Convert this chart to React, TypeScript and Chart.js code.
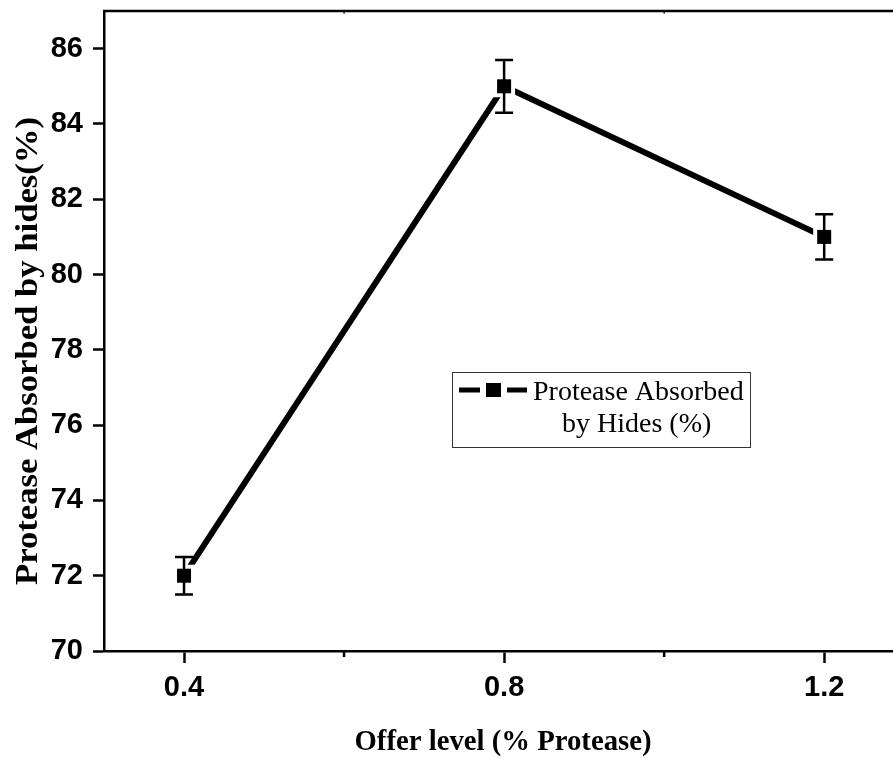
import React, { useEffect, useRef } from "react";
import { Chart, registerables } from "chart.js";
Chart.register(...registerables);

const offerLevels = [0.4, 0.8, 1.2];
const absorbed = [72, 85, 81];
const errors = [0.5, 0.7, 0.6];
const xMajorTicks = [0.4, 0.8, 1.2];
const xMinorTicks = [0.6, 1.0];
const yTicks = [70, 72, 74, 76, 78, 80, 82, 84, 86];
const legendLines = ["Protease Absorbed", "by Hides (%)"];
const xTitle = "Offer level (% Protease)";
const yTitle = "Protease Absorbed by hides(%)";

const SANS = "'Liberation Sans', Arial, sans-serif";
const SERIF = "'Liberation Serif', 'Times New Roman', serif";

const customPlugin = {
  id: "customDraw",
  afterDatasetsDraw(chart: any) {
    const ctx = chart.ctx;
    const meta = chart.getDatasetMeta(0);
    const yScale = chart.scales.y;
    ctx.save();
    ctx.fillStyle = "#fff";
    meta.data.forEach((pt: any) => {
      ctx.fillRect(pt.x - 11, pt.y - 11, 22, 22);
    });
    ctx.strokeStyle = "#000";
    ctx.lineWidth = 2.5;
    meta.data.forEach((pt: any, i: number) => {
      const yt = yScale.getPixelForValue(absorbed[i] + errors[i]);
      const yb = yScale.getPixelForValue(absorbed[i] - errors[i]);
      ctx.beginPath();
      ctx.moveTo(pt.x, yt);
      ctx.lineTo(pt.x, yb);
      ctx.moveTo(pt.x - 9, yt);
      ctx.lineTo(pt.x + 9, yt);
      ctx.moveTo(pt.x - 9, yb);
      ctx.lineTo(pt.x + 9, yb);
      ctx.stroke();
    });
    ctx.fillStyle = "#000";
    meta.data.forEach((pt: any) => {
      ctx.fillRect(pt.x - 7, pt.y - 7, 14, 14);
    });
    ctx.restore();
  },
  afterDraw(chart: any) {
    const ctx = chart.ctx;
    const area = chart.chartArea;
    const xScale = chart.scales.x;
    ctx.save();
    ctx.strokeStyle = "#000";
    ctx.lineWidth = 2.5;
    ctx.beginPath();
    ctx.moveTo(area.left - 1, area.top);
    ctx.lineTo(area.right, area.top);
    ctx.stroke();
    xMinorTicks.forEach((v) => {
      const px = xScale.getPixelForValue(v);
      ctx.lineWidth = 2.5;
      ctx.beginPath();
      ctx.moveTo(px, area.bottom);
      ctx.lineTo(px, area.bottom + 6);
      ctx.stroke();
      ctx.lineWidth = 1;
      ctx.beginPath();
      ctx.moveTo(px, area.top);
      ctx.lineTo(px, area.top + 3);
      ctx.stroke();
    });
    ctx.fillStyle = "#000";
    ctx.font = `bold 29px ${SERIF}`;
    ctx.textAlign = "center";
    ctx.textBaseline = "alphabetic";
    {
      const w = ctx.measureText(xTitle).width;
      ctx.save();
      ctx.translate(503, 750);
      ctx.scale(297 / w, 1);
      ctx.fillText(xTitle, 0, 0);
      ctx.restore();
    }
    ctx.font = `bold 32px ${SERIF}`;
    {
      const w = ctx.measureText(yTitle).width;
      ctx.save();
      ctx.translate(37, 351);
      ctx.rotate(-Math.PI / 2);
      ctx.scale(468 / w, 1);
      ctx.fillText(yTitle, 0, 0);
      ctx.restore();
    }
    ctx.strokeStyle = "#333";
    ctx.lineWidth = 1;
    ctx.strokeRect(452.5, 372.5, 298, 75);
    ctx.strokeStyle = "#000";
    ctx.lineWidth = 5;
    ctx.beginPath();
    ctx.moveTo(459, 390);
    ctx.lineTo(480, 390);
    ctx.moveTo(507, 390);
    ctx.lineTo(527, 390);
    ctx.stroke();
    ctx.fillStyle = "#000";
    ctx.fillRect(486, 383, 15, 14);
    ctx.font = `28px ${SERIF}`;
    ctx.textAlign = "left";
    ctx.fillText(legendLines[0], 533, 400);
    ctx.fillText(legendLines[1], 562, 432);
    ctx.restore();
  },
};

export default function App() {
  const ref = useRef<HTMLCanvasElement | null>(null);
  useEffect(() => {
    if (!ref.current) return;
    const chart = new Chart(ref.current, {
      type: "line",
      data: {
        datasets: [
          {
            label: legendLines.join(" "),
            data: offerLevels.map((x, i) => ({ x, y: absorbed[i] })),
            borderColor: "#000",
            backgroundColor: "#000",
            borderWidth: 6,
            pointRadius: 0,
            tension: 0,
            fill: false,
          },
        ],
      },
      options: {
        animation: false,
        responsive: false,
        devicePixelRatio: 1,
        layout: { padding: { top: 11, right: 0, left: 0, bottom: 0 } },
        plugins: { legend: { display: false }, tooltip: { enabled: false } },
        scales: {
          x: {
            type: "linear",
            min: 0.3,
            max: 1.286,
            afterBuildTicks: (scale: any) => {
              scale.ticks = [...xMajorTicks, ...xMinorTicks]
                .sort((a, b) => a - b)
                .map((v) => ({ value: v }));
            },
            afterFit: (scale: any) => {
              scale.height = 107;
              scale.paddingLeft = 0;
              scale.paddingRight = 0;
              scale.paddingTop = 0;
              scale.paddingBottom = 0;
            },
            grid: {
              display: true,
              drawOnChartArea: false,
              drawTicks: true,
              tickLength: 12,
              tickWidth: 2.5,
              tickColor: (c: any) =>
                c.tick && xMajorTicks.includes(c.tick.value) ? "#000" : "rgba(0,0,0,0)",
            },
            border: { display: true, color: "#000", width: 2.5 },
            ticks: {
              autoSkip: false,
              maxRotation: 0,
              padding: 8,
              color: "#000",
              font: { family: SANS, size: 29, weight: "bold" },
              callback: (v: any) => (xMajorTicks.includes(v) ? String(v) : ""),
            },
          },
          y: {
            type: "linear",
            min: 70,
            max: 87,
            afterBuildTicks: (scale: any) => {
              scale.ticks = yTicks.map((v) => ({ value: v }));
            },
            afterFit: (scale: any) => {
              scale.width = 104;
              scale.paddingLeft = 0;
              scale.paddingRight = 0;
              scale.paddingTop = 0;
              scale.paddingBottom = 0;
            },
            grid: {
              display: true,
              drawOnChartArea: false,
              drawTicks: true,
              tickLength: 11,
              tickWidth: 2.5,
              tickColor: "#000",
            },
            border: { display: true, color: "#000", width: 2.5 },
            ticks: {
              padding: 10,
              color: "#000",
              font: { family: SANS, size: 29, weight: "bold" },
              callback: (v: any) => String(v),
            },
          },
        },
      },
      plugins: [customPlugin],
    } as any);
    return () => chart.destroy();
  }, []);
  return (
    <div style={{ position: "fixed", left: 0, top: 0, width: 893, height: 758, background: "#fff" }}>
      <canvas ref={ref} width={893} height={758} style={{ display: "block" }} />
    </div>
  );
}
